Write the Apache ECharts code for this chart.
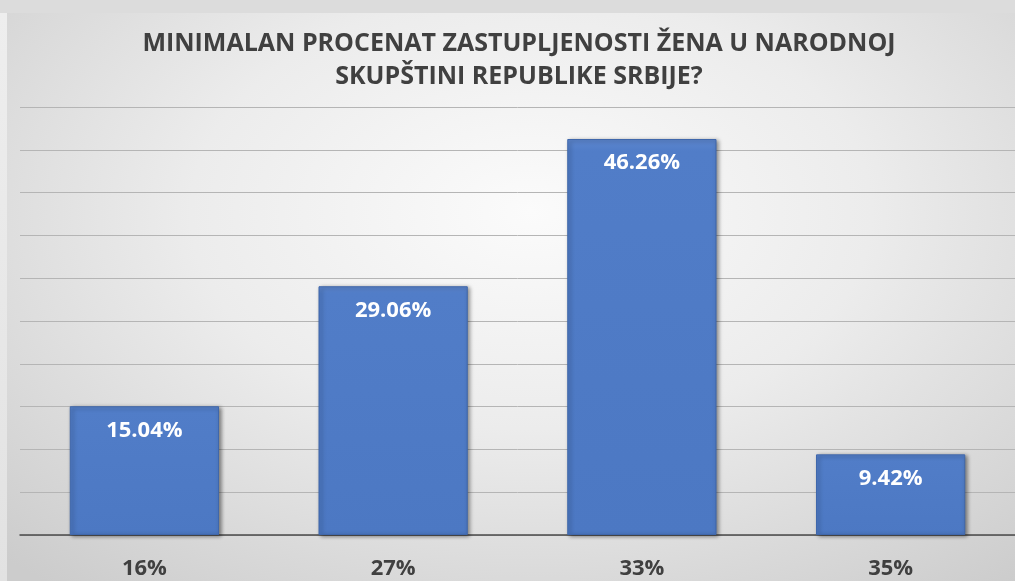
<!DOCTYPE html>
<html>
<head>
<meta charset="utf-8">
<script src="https://cdn.jsdelivr.net/npm/echarts@6/dist/echarts.min.js"></script>
<style>
  html, body { margin: 0; padding: 0; background: #dcdcdc; }
  #wrap { position: relative; width: 1015px; height: 581px; overflow: hidden; }
  #panel {
    position: absolute; left: 7px; top: 13px; right: 0; bottom: 0;
    background: radial-gradient(ellipse 75% 85% at 52% 35%, #fbfbfb 0%, #ececec 45%, #cccccc 100%);
  }
  #side {
    position: absolute; left: 0; top: 13px; width: 7px; bottom: 0;
    background: linear-gradient(#eeeeee, #e2e2e2);
  }
  #chart { position: absolute; left: 0; top: 0; width: 1015px; height: 581px; }
</style>
</head>
<body>
<div id="wrap">
  <div id="side"></div>
  <div id="panel"></div>
  <div id="chart"></div>
</div>
<script>
// chart data
const categories = ["16%", "27%", "33%", "35%"];
const shares     = [15.04, 29.06, 46.26, 9.42];
const titleText  = "MINIMALAN PROCENAT ZASTUPLJENOSTI ŽENA U NARODNOJ\nSKUPŠTINI REPUBLIKE SRBIJE?";

const chart = echarts.init(document.getElementById("chart"));

chart.setOption({
  backgroundColor: "transparent",
  animation: false,
  title: {
    text: titleText,
    left: 514,
    textAlign: "center",
    top: 22,
    textStyle: {
      fontFamily: "Open Sans",
      fontWeight: "bold",
      fontSize: 25,
      lineHeight: 33,
      color: "#404040"
    }
  },
  grid: { left: 20, width: 1000, top: 107, bottom: 46 },
  xAxis: {
    type: "category",
    data: categories,
    axisTick: { show: false },
    axisLine: { lineStyle: { color: "#4a4a4a", width: 1.5 } },
    axisLabel: {
      margin: 23,
      fontFamily: "Open Sans",
      fontWeight: "bold",
      fontSize: 22,
      color: "#404040"
    }
  },
  yAxis: {
    type: "value",
    min: 0,
    max: 50,
    interval: 5,
    axisLabel: { show: false },
    axisLine: { show: false },
    axisTick: { show: false },
    splitLine: { lineStyle: { color: "#b5b5b5", width: 1 } }
  },
  series: [{
    type: "bar",
    data: shares,
    barWidth: "60%",
    itemStyle: {
      color: {
        type: "linear", x: 0, y: 0, x2: 0, y2: 1,
        colorStops: [
          { offset: 0, color: "#5d87cf" },
          { offset: 0.03, color: "#517dc8" },
          { offset: 1, color: "#4c78c3" }
        ]
      },
      borderColor: "#3f67ab",
      borderWidth: 1,
      shadowColor: "rgba(0,0,0,0.45)",
      shadowBlur: 4,
      shadowOffsetX: 2,
      shadowOffsetY: 1
    },
    label: {
      show: true,
      position: "insideTop",
      distance: 13,
      formatter: p => p.value.toFixed(2) + "%",
      fontFamily: "Open Sans",
      fontWeight: "bold",
      fontSize: 22,
      color: "#ffffff"
    }
  }]
});
</script>
</body>
</html>
